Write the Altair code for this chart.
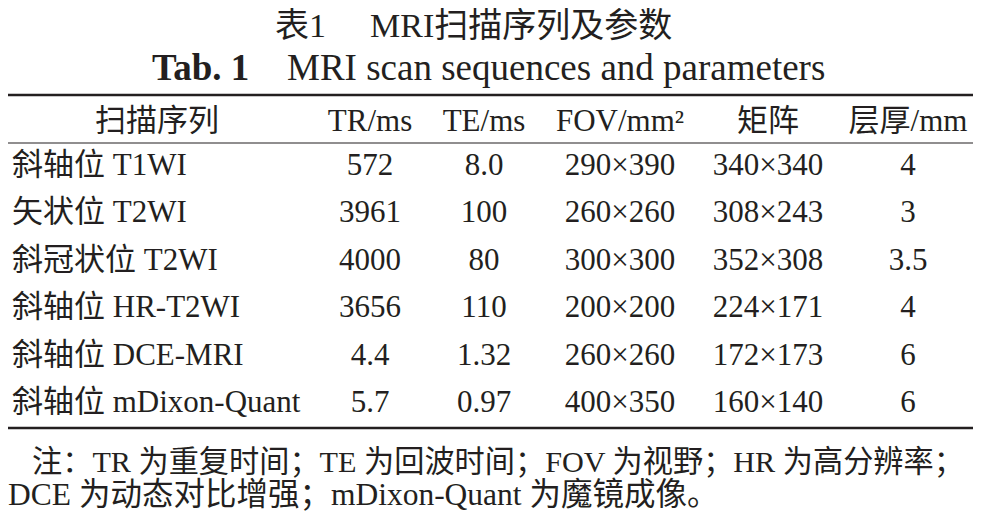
import altair as alt
import pandas as pd

# ---- table content ----
headers = ["扫描序列", "TR/ms", "TE/ms", "FOV/mm²", "矩阵", "层厚/mm"]
sequences = ["斜轴位 T1WI", "矢状位 T2WI", "斜冠状位 T2WI", "斜轴位 HR-T2WI",
             "斜轴位 DCE-MRI", "斜轴位 mDixon-Quant"]
tr = ["572", "3961", "4000", "3656", "4.4", "5.7"]
te = ["8.0", "100", "80", "110", "1.32", "0.97"]
fov = ["290×390", "260×260", "300×300", "200×200", "260×260", "400×350"]
matrix = ["340×340", "308×243", "352×308", "224×171", "172×173", "160×140"]
thickness = ["4", "3", "3.5", "4", "6", "6"]

title_cn_a = "表1"
title_cn_b = "MRI扫描序列及参数"
title_en_a = "Tab. 1"
title_en_b = "MRI scan sequences and parameters"
note_1 = "注：TR 为重复时间；TE 为回波时间；FOV 为视野；HR 为高分辨率；"
note_2 = "DCE 为动态对比增强；mDixon-Quant 为魔镜成像。"

SERIF = "Liberation Serif, Noto Sans CJK SC"
W, H = 965, 504

# ---- build cell tables ----
cells = []
for c, h in enumerate(headers):
    cells.append({"row": 0, "col": c, "text": h})
columns = [tr, te, fov, matrix, thickness]
for r in range(len(sequences)):
    for c, colvals in enumerate(columns, start=1):
        cells.append({"row": r + 1, "col": c, "text": colvals[r]})
cells_df = pd.DataFrame(cells)
labels_df = pd.DataFrame({"row": list(range(1, len(sequences) + 1)), "text": sequences})

xscale = alt.Scale(domain=[0, 1, 2, 3, 4, 5], range=[149, 362, 476, 612, 760, 900],
                   nice=False, zero=False)
yscale = alt.Scale(domain=[0, 1, 6], range=[123, 167, 404], nice=False, zero=False)

body = alt.Chart(cells_df).mark_text(
    font=SERIF, fontSize=31, align="center", baseline="alphabetic", color="#231f20"
).encode(
    x=alt.X("col:Q", scale=xscale, axis=None),
    y=alt.Y("row:Q", scale=yscale, axis=None),
    text="text:N",
)

labels = alt.Chart(labels_df).mark_text(
    font=SERIF, fontSize=31, align="left", baseline="alphabetic", color="#231f20"
).encode(
    x=alt.value(4),
    y=alt.Y("row:Q", scale=yscale, axis=None),
    text="text:N",
)


def txt(s, x, y, size, font=SERIF, weight="normal", align="left"):
    return alt.Chart(pd.DataFrame({"t": [s]})).mark_text(
        font=font, fontSize=size, fontWeight=weight, align=align,
        baseline="alphabetic", color="#231f20"
    ).encode(text="t:N", x=alt.value(x), y=alt.value(y))


def rule(y, w):
    return alt.Chart(pd.DataFrame({"k": [0]})).mark_rule(
        color="#231f20", strokeWidth=w
    ).encode(x=alt.value(0), x2=alt.value(W), y=alt.value(y))


chart = alt.layer(
    txt(title_cn_a, 267, 29, 34),
    txt(title_cn_b, 362, 29, 34),
    txt(title_en_a, 144, 72, 37, weight="bold"),
    txt(title_en_b, 279, 72, 37),
    rule(87, 2.5),
    rule(135, 1.2),
    rule(420, 2.5),
    body,
    labels,
    txt(note_1, 24, 464, 30.2),
    txt(note_2, 0, 497, 31.5),
).properties(
    width=W, height=H, padding=0,
    autosize=alt.AutoSizeParams(type="none"),
).configure_view(stroke=None)

chart.save("out.html", embed_options={"renderer": "svg", "actions": False})
